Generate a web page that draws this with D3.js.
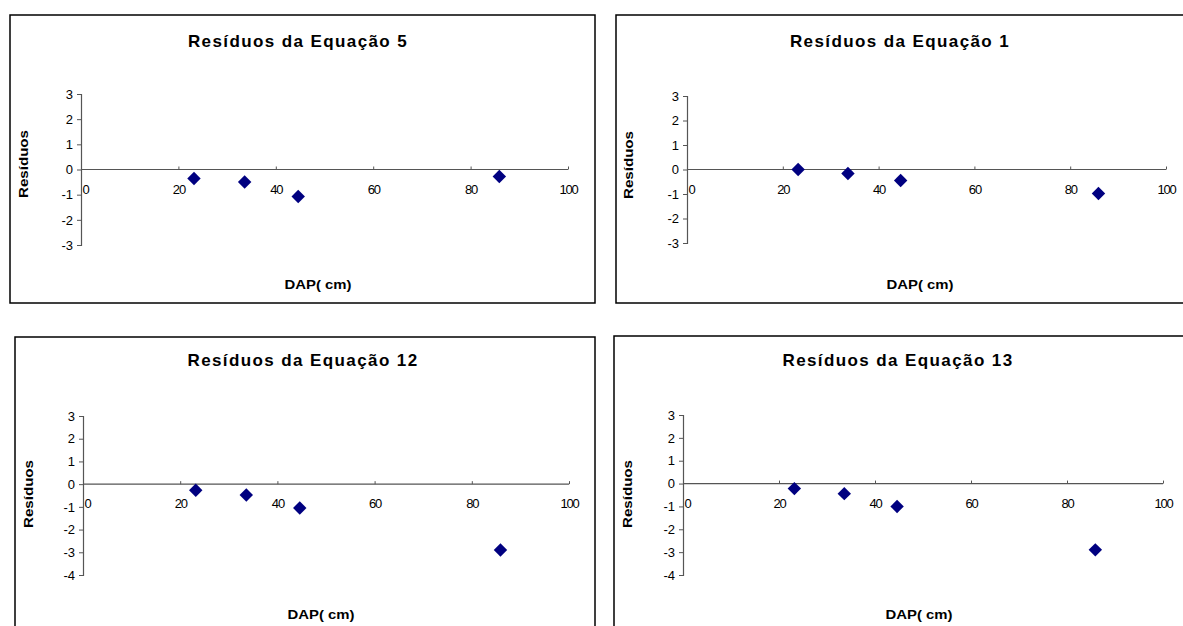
<!DOCTYPE html>
<html>
<head>
<meta charset="utf-8">
<script src="https://cdn.jsdelivr.net/npm/d3@7"></script>
<style>
  html, body { margin: 0; padding: 0; background: #fff; }
  svg { display: block; }
  text { font-family: Arial, "Liberation Sans", sans-serif; }
</style>
</head>
<body>
<svg id="chart" width="1183" height="626"></svg>
<script>
// ---- data ----
const dap = [23.2, 33.6, 44.6, 85.9];
const resEq5  = [-0.36, -0.50, -1.07, -0.28];
const resEq1  = [0.00, -0.16, -0.45, -0.98];
const resEq12 = [-0.27, -0.48, -1.05, -2.90];
const resEq13 = [-0.22, -0.44, -1.00, -2.90];
const titles = ["Resíduos da Equação 5", "Resíduos da Equação 1", "Resíduos da Equação 12", "Resíduos da Equação 13"];
const xTicks = [0, 20, 40, 60, 80, 100];
const yTicksTop = [3, 2, 1, 0, -1, -2, -3];
const yTicksBottom = [3, 2, 1, 0, -1, -2, -3, -4];
const xLabel = "DAP( cm)";
const yLabel = "Resíduos";

// ---- layout ----
const panels = [
  { res: resEq5,  title: titles[0], yt: yTicksTop,    box: [10, 15, 595, 303],  px: [81, 568],  py: [94, 245],  ymin: -3, tx: 298, ty: 47,  ylx: 23,  yly: 164, xlx: 318, xly: 289 },
  { res: resEq1,  title: titles[1], yt: yTicksTop,    box: [616, 15, 1190, 303], px: [687, 1166], py: [96, 243], ymin: -3, tx: 900, ty: 47,  ylx: 628, yly: 165, xlx: 920, xly: 289 },
  { res: resEq12, title: titles[2], yt: yTicksBottom, box: [15, 337, 595, 640], px: [83, 569],  py: [416, 575], ymin: -4, tx: 303, ty: 366, ylx: 28,  yly: 494, xlx: 321, xly: 619 },
  { res: resEq13, title: titles[3], yt: yTicksBottom, box: [614, 336, 1190, 640], px: [683, 1163], py: [415, 575], ymin: -4, tx: 898, ty: 366, ylx: 627, yly: 494, xlx: 919, xly: 619 }
];

const svg = d3.select("#chart");
const axisColor = "#555";

panels.forEach(p => {
  const g = svg.append("g");
  const [x0, y0, x1, y1] = p.box;
  g.append("rect").attr("x", x0).attr("y", y0).attr("width", x1 - x0).attr("height", y1 - y0)
    .attr("fill", "#fff").attr("stroke", "#000").attr("stroke-width", 1.5);

  const x = d3.scaleLinear().domain([0, 100]).range(p.px);
  const y = d3.scaleLinear().domain([3, p.ymin]).range(p.py);

  // title
  g.append("text").attr("x", p.tx).attr("y", p.ty).attr("text-anchor", "middle")
    .attr("font-size", 17).attr("font-weight", "bold").attr("letter-spacing", 1.4)
    .attr("fill", "#000").text(p.title);

  // y axis
  const ya = d3.axisLeft(y).tickValues(p.yt).tickSize(4).tickPadding(4).tickFormat(d3.format("d"));
  const yg = g.append("g").attr("transform", `translate(${x(0)},0)`).call(ya);
  yg.select(".domain").attr("stroke", axisColor).attr("stroke-width", 1.2);
  yg.selectAll(".tick line").attr("stroke", axisColor);
  yg.selectAll(".tick text").attr("font-size", 13).attr("fill", "#000")
    .attr("font-family", "Arial, 'Liberation Sans', sans-serif").text(d => d < 0 ? "-" + Math.abs(d) : d);

  // x axis at y=0
  const xa = d3.axisTop(x).tickValues(xTicks).tickSize(3).tickFormat(d3.format("d"));
  const xg = g.append("g").attr("transform", `translate(0,${y(0)})`).call(xa);
  xg.select(".domain").attr("stroke", axisColor).attr("stroke-width", 1.2).attr("d", `M${p.px[0]},0H${p.px[1]}`);
  xg.selectAll(".tick line").attr("stroke", axisColor);
  xg.selectAll(".tick text").attr("font-size", 13).attr("fill", "#000").attr("letter-spacing", -1.2)
    .attr("font-family", "Arial, 'Liberation Sans', sans-serif")
    .attr("dy", 0).attr("y", 24).attr("dx", d => d === 0 ? 4 : 0);

  // y label
  g.append("text").attr("transform", `translate(${p.ylx + 5},${p.yly}) rotate(-90)`)
    .attr("text-anchor", "middle").attr("font-size", 13).attr("font-weight", "bold")
    .attr("textLength", 68).attr("lengthAdjust", "spacingAndGlyphs")
    .attr("fill", "#000").text(yLabel);

  // x label
  g.append("text").attr("x", p.xlx).attr("y", p.xly).attr("text-anchor", "middle")
    .attr("font-size", 13).attr("font-weight", "bold")
    .attr("textLength", 67).attr("lengthAdjust", "spacingAndGlyphs")
    .attr("fill", "#000").text(xLabel);

  // points
  const sym = d3.symbol().type(d3.symbolDiamond2).size(115);
  g.selectAll("path.pt").data(dap.map((d, i) => ({ x: d, y: p.res[i] }))).join("path")
    .attr("class", "pt")
    .attr("transform", d => `translate(${x(d.x)},${y(d.y)})`)
    .attr("d", sym).attr("fill", "#000080");
});
</script>
</body>
</html>
